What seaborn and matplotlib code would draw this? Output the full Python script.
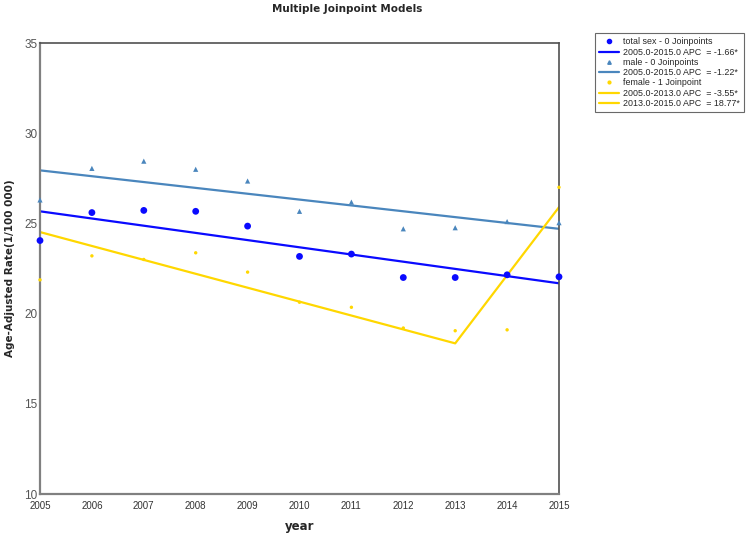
import matplotlib
matplotlib.use("Agg")
import matplotlib.pyplot as plt
import seaborn as sns
import pandas as pd
from matplotlib.lines import Line2D

years = [2005, 2006, 2007, 2008, 2009, 2010, 2011, 2012, 2013, 2014, 2015]
total_obs = [24.05, 25.6, 25.72, 25.67, 24.85, 23.17, 23.3, 22.0, 22.0, 22.15, 22.04]
male_obs = [26.3, 28.05, 28.45, 28.0, 27.35, 25.67, 26.18, 24.7, 24.76, 25.1, 25.04]
female_obs = [21.87, 23.2, 23.0, 23.37, 22.3, 20.63, 20.35, 19.2, 19.05, 19.1, 27.0]

total_fit_years = [2005, 2015]
total_fit = [25.67, 21.68]
male_fit_years = [2005, 2015]
male_fit = [27.94, 24.7]
female_fit_years = [2005, 2013, 2015]
female_fit = [24.52, 18.35, 25.9]

legend_labels = [
    "total sex - 0 Joinpoints",
    "2005.0-2015.0 APC  = -1.66*",
    "male - 0 Joinpoints",
    "2005.0-2015.0 APC  = -1.22*",
    "female - 1 Joinpoint",
    "2005.0-2013.0 APC  = -3.55*",
    "2013.0-2015.0 APC  = 18.77*",
]
x_ticks = list(range(2005, 2016))
y_ticks = [10, 15, 20, 25, 30, 35]

BLUE = "#0a0aff"
STEEL = "#4a86bd"
GOLD = "#ffd700"

sns.set_style("white")
plt.rcParams['font.family'] = ['DejaVu Sans']

fig = plt.figure(figsize=(7.53, 5.36), dpi=100)
ax = fig.add_axes([40/753, 1-494/536, 519/753, 451/536])

obs = pd.DataFrame({"year": years, "total": total_obs, "male": male_obs, "female": female_obs})

sns.lineplot(x=male_fit_years, y=male_fit, ax=ax, color=STEEL, linewidth=1.6, zorder=2)
sns.lineplot(x=total_fit_years, y=total_fit, ax=ax, color=BLUE, linewidth=1.6, zorder=2)
sns.lineplot(x=female_fit_years, y=female_fit, ax=ax, color=GOLD, linewidth=1.6, zorder=2)

sns.scatterplot(data=obs, x="year", y="total", ax=ax, color=BLUE, marker="o", s=24,
                edgecolor="none", zorder=3, clip_on=False)
sns.scatterplot(data=obs, x="year", y="male", ax=ax, color=STEEL, marker="^", s=14,
                edgecolor="none", zorder=3, clip_on=False)
sns.scatterplot(data=obs, x="year", y="female", ax=ax, color=GOLD, marker="o", s=6,
                edgecolor="none", zorder=3, clip_on=False)

ax.set_xlim(2005, 2015)
ax.set_ylim(10, 35)
ax.set_xticks(x_ticks)
ax.set_xticklabels([str(t) for t in x_ticks], fontsize=7, color="#333333",
                   family=["Liberation Sans"])
ax.set_yticks(y_ticks)
ax.set_yticklabels([str(t) for t in y_ticks], fontsize=8.5, color="#555555",
                   family=["Liberation Sans"])
ax.tick_params(axis="both", length=0, pad=2)
ax.tick_params(axis="x", pad=5)

for side in ["left", "bottom"]:
    ax.spines[side].set_color("#808080")
    ax.spines[side].set_linewidth(1.6)
for side in ["top", "right"]:
    ax.spines[side].set_color("#505050")
    ax.spines[side].set_linewidth(1.2)

ax.set_xlabel("year", fontsize=8.5, fontweight="bold")
ax.xaxis.set_label_coords(0.5, (494 - 520) / 451)
ax.set_ylabel("Age-Adjusted Rate(1/100 000)", fontsize=7.5, fontweight="bold")
ax.yaxis.set_label_coords((15 - 40) / 519, 0.5)

fig.text(347/753, 1-9/536, "Multiple Joinpoint Models", fontsize=7.5, fontweight="bold",
         ha="center", va="center")

handles = [
    Line2D([], [], color=BLUE, marker="o", linestyle="none", markersize=3),
    Line2D([], [], color=BLUE, linewidth=1.6),
    Line2D([], [], color=STEEL, marker="^", linestyle="none", markersize=2.5),
    Line2D([], [], color=STEEL, linewidth=1.6),
    Line2D([], [], color=GOLD, marker="o", linestyle="none", markersize=2),
    Line2D([], [], color=GOLD, linewidth=1.6),
    Line2D([], [], color=GOLD, linewidth=1.6),
]
leg = fig.legend(handles, legend_labels, loc="upper left",
                 bbox_to_anchor=(595/753, 1-33/536), frameon=True,
                 prop={"family": "Liberation Sans", "size": 6.4},
                 fancybox=False, handlelength=2.2, handletextpad=0.4,
                 labelspacing=0.14, borderpad=0.5, borderaxespad=0)
leg.get_frame().set_edgecolor("#444444")
leg.get_frame().set_linewidth(0.8)

fig.savefig("out.png", dpi=100)
